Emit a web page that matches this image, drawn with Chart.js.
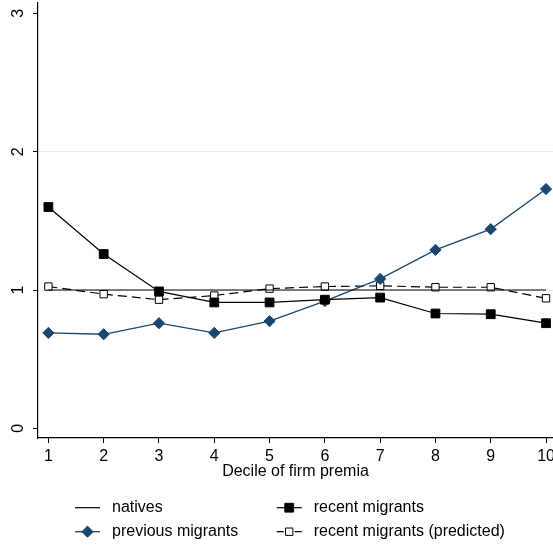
<!DOCTYPE html>
<html>
<head>
<meta charset="utf-8">
<script src="https://cdn.jsdelivr.net/npm/chart.js@4.4.1/dist/chart.umd.min.js"></script>
<style>
  html, body { margin: 0; padding: 0; background: #fff; }
  canvas { display: block; }
</style>
</head>
<body>
<canvas id="chart" width="553" height="548"></canvas>
<script>
// Decile of firm premia on the x axis
const deciles = [1, 2, 3, 4, 5, 6, 7, 8, 9, 10];

// Relative shares by decile
const natives          = [1, 1, 1, 1, 1, 1, 1, 1, 1, 1];
const recentMigrants   = [1.60, 1.26, 0.99, 0.91, 0.91, 0.93, 0.945, 0.83, 0.825, 0.76];
const previousMigrants = [0.69, 0.68, 0.76, 0.69, 0.775, 0.92, 1.08, 1.29, 1.44, 1.73];
const recentPredicted  = [1.025, 0.97, 0.93, 0.96, 1.01, 1.025, 1.03, 1.02, 1.02, 0.94];

const yTicks = [0, 1, 2, 3];
const seriesLabels = ['natives', 'recent migrants', 'previous migrants', 'recent migrants (predicted)'];

const FONT = '"Liberation Sans", Arial, Helvetica, sans-serif';
const NAVY = '#1a476f';

const toPoints = (ys) => deciles.map((x, i) => ({ x: x, y: ys[i] }));

// Draws a marker the same way the chart does (rect / rotated rect)
function drawMarker(ctx, style, r, x, y, fill, stroke, lw) {
  ctx.beginPath();
  if (style === 'rectRot') {
    ctx.moveTo(x - r, y);
    ctx.lineTo(x, y - r);
    ctx.lineTo(x + r, y);
    ctx.lineTo(x, y + r);
    ctx.closePath();
  } else {
    const s = Math.SQRT1_2 * r;
    ctx.rect(x - s, y - s, 2 * s, 2 * s);
  }
  ctx.fillStyle = fill;
  ctx.fill();
  ctx.lineWidth = lw;
  ctx.strokeStyle = stroke;
  ctx.stroke();
}

// Two-column key under the axis title
const keyPlugin = {
  id: 'twoColumnKey',
  afterDraw(chart) {
    const ctx = chart.ctx;
    const colX = [75, 276.7];
    const rowY = [507.7, 531.7];
    const sampleLen = 25;
    chart.data.datasets.forEach((ds, i) => {
      const x0 = colX[i % 2];
      const y = rowY[Math.floor(i / 2)];
      const xm = x0 + sampleLen / 2;
      ctx.save();
      ctx.strokeStyle = ds.borderColor;
      ctx.lineWidth = ds.borderWidth;
      ctx.beginPath();
      if (ds.borderDash && ds.borderDash.length) {
        ctx.moveTo(x0, y); ctx.lineTo(x0 + 7, y);
        ctx.moveTo(x0 + sampleLen - 7, y); ctx.lineTo(x0 + sampleLen, y);
      } else {
        ctx.moveTo(x0, y); ctx.lineTo(x0 + sampleLen, y);
      }
      ctx.stroke();
      if (ds.pointRadius > 0) {
        drawMarker(ctx, ds.pointStyle, ds.pointRadius, xm, y,
          ds.pointBackgroundColor, ds.pointBorderColor, ds.pointBorderWidth);
      }
      ctx.fillStyle = '#000';
      ctx.font = '16px ' + FONT;
      ctx.textBaseline = 'middle';
      ctx.textAlign = 'left';
      ctx.fillText(ds.label, x0 + 37, y);
      ctx.restore();
    });
  }
};

Chart.defaults.font.family = FONT;
Chart.defaults.color = '#000';

new Chart(document.getElementById('chart'), {
  type: 'line',
  data: {
    datasets: [
      {
        label: seriesLabels[0],
        data: toPoints(natives),
        borderColor: '#000',
        borderWidth: 1.2,
        pointRadius: 0,
        pointHoverRadius: 0
      },
      {
        label: seriesLabels[1],
        data: toPoints(recentMigrants),
        borderColor: '#000',
        borderWidth: 1.2,
        pointStyle: 'rect',
        pointRadius: 6.2,
        pointBackgroundColor: '#000',
        pointBorderColor: '#000',
        pointBorderWidth: 1
      },
      {
        label: seriesLabels[2],
        data: toPoints(previousMigrants),
        borderColor: NAVY,
        borderWidth: 1.3,
        pointStyle: 'rectRot',
        pointRadius: 5.6,
        pointBackgroundColor: NAVY,
        pointBorderColor: NAVY,
        pointBorderWidth: 1
      },
      {
        label: seriesLabels[3],
        data: toPoints(recentPredicted),
        borderColor: '#000',
        borderWidth: 1.2,
        borderDash: [9, 5],
        pointStyle: 'rect',
        pointRadius: 5.2,
        pointBackgroundColor: '#fff',
        pointBorderColor: '#000',
        pointBorderWidth: 1
      }
    ]
  },
  options: {
    responsive: false,
    animation: false,
    devicePixelRatio: 1,
    layout: { autoPadding: false, padding: { top: 3, left: 0, right: 0, bottom: 0 } },
    elements: { line: { tension: 0, fill: false } },
    plugins: {
      legend: { display: false },
      tooltip: { enabled: false }
    },
    scales: {
      x: {
        type: 'linear',
        min: 0.812,
        max: 10.126,
        afterBuildTicks: (s) => { s.ticks = deciles.map(v => ({ value: v })); },
        afterFit: (s) => { s.height = 110; s.paddingLeft = 0; s.paddingRight = 0; },
        grid: { drawOnChartArea: false, drawTicks: true, tickLength: 5, tickColor: '#000', tickWidth: 1 },
        border: { display: true, color: '#000', width: 1.2 },
        ticks: {
          font: { size: 16 },
          color: '#000',
          padding: 4,
          maxRotation: 0,
          autoSkip: false,
          callback: (v) => String(v)
        },
        title: {
          display: true,
          text: 'Decile of firm premia',
          color: '#000',
          font: { size: 16, lineHeight: 1 },
          padding: { top: 0, bottom: 68 }
        }
      },
      y: {
        type: 'linear',
        min: -0.07,
        max: 3.075,
        afterBuildTicks: (s) => { s.ticks = yTicks.map(v => ({ value: v })); },
        afterFit: (s) => { s.width = 38; s.paddingTop = 0; s.paddingBottom = 0; },
        grid: {
          drawOnChartArea: true,
          drawTicks: true,
          tickLength: 5,
          tickColor: '#000',
          tickWidth: 1,
          color: (c) => (c.tick && (c.tick.value === 1 || c.tick.value === 2)) ? '#e4eef0' : 'rgba(0,0,0,0)'
        },
        border: { display: true, color: '#000', width: 1.2 },
        ticks: {
          font: { size: 16 },
          color: '#000',
          minRotation: 90,
          maxRotation: 90,
          crossAlign: 'center',
          padding: 10,
          autoSkip: false,
          callback: (v) => String(v)
        }
      }
    }
  },
  plugins: [keyPlugin]
});
</script>
</body>
</html>
